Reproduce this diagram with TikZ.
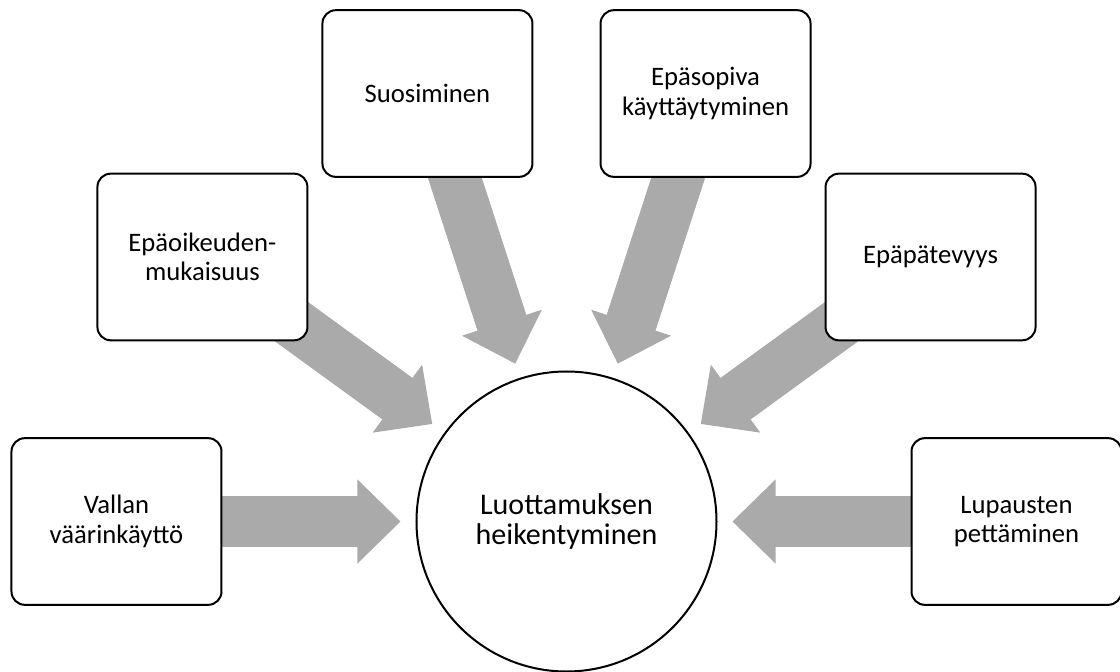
\documentclass[tikz,border=0pt]{standalone}
\usepackage{fontspec}
\setmainfont{Carlito}
\usetikzlibrary{arrows.meta}
\definecolor{arrowgray}{RGB}{170,170,170}
\pgfdeclarelayer{bg}
\pgfsetlayers{bg,main}

\begin{document}
\begin{tikzpicture}[
  x=0.75pt, y=0.75pt,
  box/.style={draw, rectangle, rounded corners=10pt, line width=1.5pt, minimum width=157.5pt, minimum height=125pt, align=center, fill=white, font=\fontsize{20}{22}\selectfont},
  hub/.style={draw, circle, line width=1.5pt, minimum size=225pt, inner sep=0pt, align=center, fill=white, font=\fontsize{22.5}{23}\selectfont},
  bigarrow/.style={draw=arrowgray, line width=38.25pt, -{Triangle[length=32.25pt 0, width=63pt 0, line width=0pt, fill=arrowgray]}, shorten >=11.25pt},
  shaft/.style={draw=arrowgray, line width=38.25pt, shorten >=40pt}
]
\useasboundingbox (-566.5,-149.5) rectangle (553.5,521.5);

% Centre
\node[hub] (trust) at (0,0) {Luottamuksen\\heikentyminen};

% Causes around it
\node[box] (power) at (180:450) {Vallan\\väärinkäyttö};
\node[box] (fair) at (144:450) {Epäoikeuden-\\mukaisuus};
\node[box] (favour) at (108:450) {Suosiminen};
\node[box] (conduct) at (72:450) {Epäsopiva\\käyttäytyminen};
\node[box] (skill) at (36:450) {Epäpätevyys};
\node[box] (promise) at (0:450) {Lupausten\\pettäminen};

% Arrows (under the boxes)
\begin{pgfonlayer}{bg}
  \foreach \src in {power,fair,favour,conduct,skill,promise} {
    \draw[bigarrow] (\src.center) -- (trust);
    \draw[shaft] (\src.center) -- (trust);
  }
\end{pgfonlayer}

\end{tikzpicture}
\end{document}
